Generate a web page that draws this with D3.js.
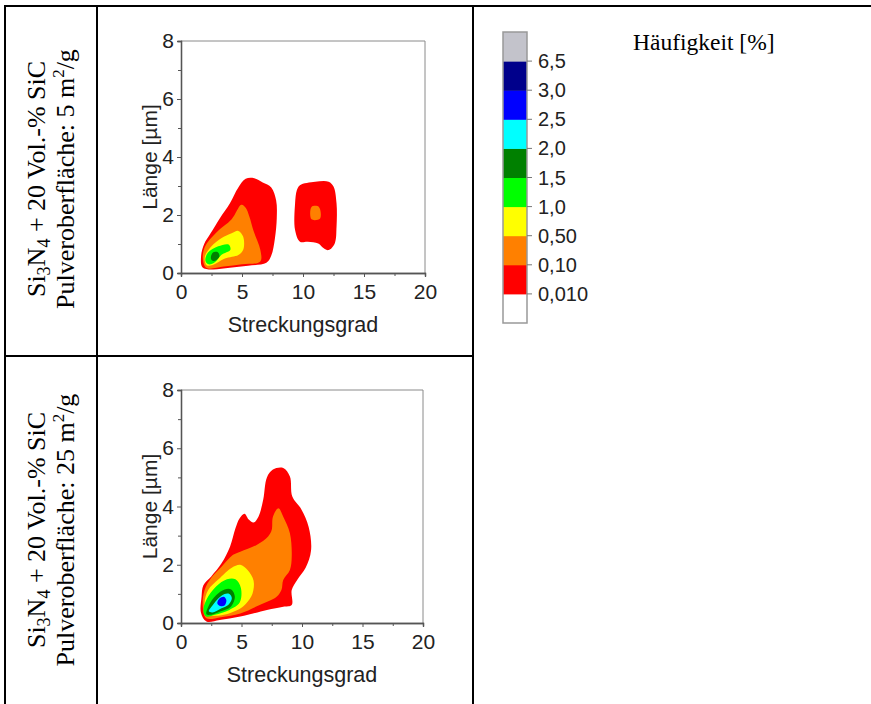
<!DOCTYPE html>
<html><head><meta charset="utf-8">
<script src="https://cdn.jsdelivr.net/npm/d3@7"></script>
<style>body{margin:0;background:#fff}</style>
</head><body><svg id="c" width="871" height="704"></svg>
<script>
// ---------- data ----------
const xTicks = [0, 5, 10, 15, 20];
const yTicks = [0, 2, 4, 6, 8];
const xMinor = [2.5, 7.5, 12.5, 17.5];
const yMinor = [1, 3, 5, 7];
const xLabel = "Streckungsgrad";
const yLabel = "Länge [µm]";
const legendTitle = "Häufigkeit [%]";
const levelLabels = ["0,010", "0,10", "0,50", "1,0", "1,5", "2,0", "2,5", "3,0", "6,5"];
const sampleArea = ["5", "25"];

// contour outlines, [Streckungsgrad, Länge]; level index 1 = >0,010 ...
// sample A: 5 m²/g
const aRedMain = [[1.75,0.2],[1.65,0.6],[1.9,1.0],[2.4,1.35],[3.2,1.9],[4.0,2.4],[4.7,2.95],[5.3,3.25],[6.0,3.27],[6.7,3.12],[7.4,2.95],[7.8,2.5],[7.85,1.9],[7.7,1.2],[7.4,0.6],[7.0,0.35],[5.5,0.25],[4.0,0.18],[2.5,0.12]];
const aRedSecond = [[9.5,2.86],[9.75,3.03],[11.0,3.15],[12.1,3.15],[12.5,2.98],[12.75,2.4],[12.75,1.6],[12.6,1.02],[12.1,0.79],[11.7,0.85],[11.25,1.02],[10.4,1.08],[9.75,1.08],[9.35,1.48],[9.35,2.4]];
const aOrangeMain = [[2.1,0.17],[1.8,0.45],[1.95,0.9],[2.9,1.4],[4.15,1.85],[4.95,2.35],[5.3,2.25],[5.6,1.95],[5.95,1.45],[6.5,0.8],[6.5,0.4],[5.0,0.3],[3.5,0.22]];
const aOrangeSecond = [[10.7,2.28],[11.3,2.28],[11.4,1.88],[10.7,1.85]];
const aYellow = [[2.1,0.27],[1.95,0.56],[2.5,0.92],[3.3,1.2],[4.15,1.37],[4.7,1.45],[5.1,1.25],[5.1,0.8],[4.7,0.62],[3.6,0.5],[2.6,0.28]];
const aGreen = [[2.0,0.42],[2.2,0.7],[3.05,0.92],[3.9,0.98],[4.05,0.8],[3.3,0.62],[2.8,0.38],[2.25,0.3]];
const aDarkGreen = [[2.45,0.5],[2.6,0.7],[3.0,0.72],[3.15,0.58],[2.9,0.45],[2.6,0.42]];
// sample B: 25 m²/g
const bRed = [[2.1,0.05],[1.65,0.35],[1.7,0.9],[1.85,1.3],[2.5,1.6],[3.35,2.05],[4.05,2.62],[4.5,3.25],[4.85,3.6],[5.25,3.75],[5.6,3.55],[6.0,3.45],[6.4,3.65],[6.8,4.25],[7.1,5.0],[7.6,5.27],[8.45,5.32],[9.0,5.03],[9.2,4.34],[9.95,3.9],[10.55,3.3],[10.75,2.5],[10.3,1.9],[9.6,1.48],[9.15,1.13],[9.15,0.62],[8.45,0.56],[7.1,0.45],[4.9,0.22],[3.2,0.1]];
const bOrange = [[2.1,0.16],[1.8,0.56],[1.95,1.13],[2.5,1.55],[3.35,1.93],[4.3,2.34],[4.9,2.45],[6.25,2.68],[7.2,2.97],[7.5,3.2],[7.6,3.65],[8.05,3.94],[8.45,3.65],[9.0,3.08],[9.15,2.28],[9.0,1.82],[8.45,1.48],[8.3,1.13],[7.9,0.9],[6.5,0.62],[4.9,0.33],[3.3,0.2]];
const bYellow = [[2.2,0.3],[1.95,0.68],[2.25,1.13],[3.1,1.5],[4.2,1.9],[4.9,2.0],[5.5,1.82],[6.0,1.45],[5.9,1.0],[5.4,0.68],[4.9,0.5],[3.35,0.27]];
const bGreen = [[1.85,0.4],[2.1,0.8],[2.9,1.25],[3.8,1.5],[4.5,1.5],[4.95,1.2],[4.85,0.7],[4.0,0.45],[2.8,0.28],[2.1,0.22]];
const bDarkGreen = [[2.1,0.3],[2.3,0.6],[2.9,0.95],[3.6,1.15],[4.15,1.15],[4.45,0.9],[4.1,0.55],[3.3,0.4],[2.5,0.28]];
const bCyan = [[2.3,0.4],[2.6,0.6],[3.1,0.85],[3.6,1.0],[4.0,1.0],[4.2,0.85],[3.9,0.62],[3.3,0.5],[2.6,0.36]];
const bBlue = [[3.0,0.68],[3.2,0.85],[3.55,0.9],[3.75,0.78],[3.6,0.6],[3.25,0.58]];

const sampleA = [[1, aRedMain], [1, aRedSecond], [2, aOrangeMain], [2, aOrangeSecond], [3, aYellow], [4, aGreen], [5, aDarkGreen]];
const sampleB = [[1, bRed], [2, bOrange], [3, bYellow], [4, bGreen], [5, bDarkGreen], [6, bCyan], [7, bBlue]];

// ---------- style ----------
const bandColors = ["#ffffff", "#ff0000", "#ff8000", "#ffff00", "#00ff00", "#008000", "#00ffff", "#0000ff", "#00008b", "#c3c3cb"];
const sans = "'Liberation Sans', Arial, sans-serif";
const serif = "'Liberation Serif', 'Times New Roman', serif";

const svg = d3.select("#c");

// ---------- table ----------
const tbl = svg.append("g").attr("stroke", "#000").attr("stroke-width", 2);
tbl.append("line").attr("x1", 4).attr("x2", 871).attr("y1", 6).attr("y2", 6);
tbl.append("line").attr("x1", 5).attr("x2", 5).attr("y1", 5).attr("y2", 704);
tbl.append("line").attr("x1", 97).attr("x2", 97).attr("y1", 5).attr("y2", 704);
tbl.append("line").attr("x1", 473).attr("x2", 473).attr("y1", 5).attr("y2", 704);
tbl.append("line").attr("x1", 5).attr("x2", 473).attr("y1", 356).attr("y2", 356);

// ---------- row labels ----------
function rowLabel(cy, area) {
  const g = svg.append("g").attr("font-family", serif).attr("font-size", 26).attr("fill", "#000");
  const t1 = g.append("text").attr("text-anchor", "middle")
    .attr("transform", `translate(45,${cy}) rotate(-90)`);
  t1.append("tspan").text("Si");
  t1.append("tspan").attr("font-size", 18).attr("dy", 5).text("3");
  t1.append("tspan").attr("dy", -5).text("N");
  t1.append("tspan").attr("font-size", 18).attr("dy", 5).text("4");
  t1.append("tspan").attr("dy", -5).text(" + 20 Vol.-% SiC");
  const t2 = g.append("text").attr("text-anchor", "middle")
    .attr("transform", `translate(74,${cy}) rotate(-90)`);
  t2.append("tspan").text(`Pulveroberfläche: ${area} m`);
  t2.append("tspan").attr("font-size", 17).attr("dy", -10).text("2");
  t2.append("tspan").attr("dy", 10).text("/g");
}
rowLabel(179, sampleArea[0]);
rowLabel(530, sampleArea[1]);

// ---------- panels ----------
function panel(x0, x1, y0, y1, contours) {
  const x = d3.scaleLinear().domain([0, 20]).range([x0, x1]);
  const y = d3.scaleLinear().domain([0, 8]).range([y0, y1]);
  const g = svg.append("g");
  const line = d3.line().x(d => x(d[0])).y(d => y(d[1])).curve(d3.curveCatmullRomClosed.alpha(0.5));
  g.selectAll("path.c").data(contours).join("path").attr("class", "c")
    .attr("d", d => line(d[1])).attr("fill", d => bandColors[d[0]]).attr("stroke", "none");
  // frame
  g.append("line").attr("x1", x0).attr("x2", x1).attr("y1", y1).attr("y2", y1).attr("stroke", "#8a8a8a");
  g.append("line").attr("x1", x1).attr("x2", x1).attr("y1", y1).attr("y2", y0).attr("stroke", "#8a8a8a");
  // axes
  const ax = g.append("g").attr("transform", `translate(0,${y0})`)
    .call(d3.axisBottom(x).tickValues(xTicks).tickSize(4).tickPadding(7).tickFormat(d3.format("d")));
  const axm = g.append("g").attr("transform", `translate(0,${y0})`)
    .call(d3.axisBottom(x).tickValues(xMinor).tickSize(3).tickFormat(""));
  const ay = g.append("g").attr("transform", `translate(${x0},0)`)
    .call(d3.axisLeft(y).tickValues(yTicks).tickSize(4).tickPadding(3).tickFormat(d3.format("d")));
  const aym = g.append("g").attr("transform", `translate(${x0},0)`)
    .call(d3.axisLeft(y).tickValues(yMinor).tickSize(3).tickFormat(""));
  [ax, axm, ay, aym].forEach(a => {
    a.select(".domain").attr("stroke", "#555").attr("stroke-width", 1.3);
    a.selectAll(".tick line").attr("stroke", "#555");
    a.selectAll("text").attr("font-family", sans).attr("font-size", 21).attr("fill", "#222");
  });
  g.append("text").attr("x", (x0 + x1) / 2).attr("y", y0 + 59).attr("text-anchor", "middle")
    .attr("font-family", sans).attr("font-size", 21.5).attr("fill", "#222").text(xLabel);
  g.append("text").attr("transform", `translate(${x0 - 24},${(y0 + y1) / 2}) rotate(-90)`)
    .attr("text-anchor", "middle").attr("font-family", sans).attr("font-size", 21).attr("fill", "#222").text(yLabel);
}
panel(181, 425, 273, 41, sampleA);
panel(181, 423, 623, 390, sampleB);

// ---------- colour bar ----------
const bandIdx = d3.range(bandColors.length);
const cb = d3.scaleBand().domain(bandIdx).range([323, 32]).paddingInner(0).paddingOuter(0);
const lg = svg.append("g");
lg.selectAll("rect").data(bandIdx).join("rect")
  .attr("x", 503).attr("width", 24)
  .attr("y", d => cb(d)).attr("height", cb.bandwidth() + 0.5)
  .attr("fill", d => bandColors[d]);
lg.append("rect").attr("x", 503).attr("y", 32).attr("width", 24).attr("height", 291)
  .attr("fill", "none").attr("stroke", "#999").attr("stroke-width", 1.5);
lg.selectAll("line.t").data(levelLabels).join("line").attr("class", "t")
  .attr("x1", 527).attr("x2", 532)
  .attr("y1", (d, i) => cb(i)).attr("y2", (d, i) => cb(i)).attr("stroke", "#777");
lg.selectAll("text.l").data(levelLabels).join("text").attr("class", "l")
  .attr("x", 538).attr("y", (d, i) => cb(i)).attr("dy", "0.35em")
  .attr("font-family", sans).attr("font-size", 20).attr("fill", "#222").text(d => d);
svg.append("text").attr("x", 633).attr("y", 50).attr("font-family", serif).attr("font-size", 23.5)
  .attr("fill", "#000").text(legendTitle);
</script></body></html>
